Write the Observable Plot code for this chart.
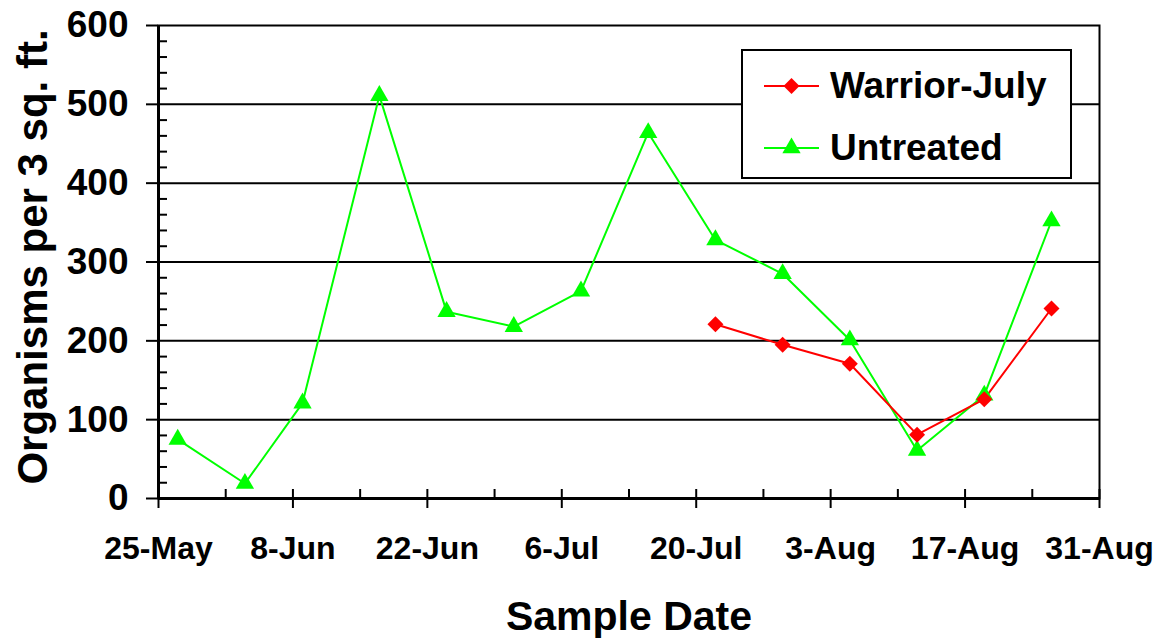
<!DOCTYPE html>
<html><head><meta charset="utf-8">
<script src="https://cdn.jsdelivr.net/npm/d3@7"></script>
<script src="https://cdn.jsdelivr.net/npm/@observablehq/plot@0.6"></script>
<style>body{margin:0;background:#fff}#chart{width:1163px;height:641px}</style>
</head><body><div id="chart"></div>
<script>
// ---- data ----
const untreatedDates = ["2009-05-27","2009-06-03","2009-06-09","2009-06-17","2009-06-24","2009-07-01","2009-07-08","2009-07-15","2009-07-22","2009-07-29","2009-08-05","2009-08-12","2009-08-19","2009-08-26"];
const untreatedValues = [75, 19, 121, 511, 237, 218, 263, 464, 328, 285, 201, 61, 131, 352];
const warriorDates = ["2009-07-22","2009-07-29","2009-08-05","2009-08-12","2009-08-19","2009-08-26"];
const warriorValues = [221, 195, 171, 81, 126, 241];
const seriesNames = ["Warrior-July", "Untreated"];
const seriesColors = ["#ff0000", "#00ff00"];
const seriesSymbols = ["diamond2", "triangle"];
const xDomain = ["2009-05-25", "2009-08-31"];
const xMajorTicks = ["2009-05-25","2009-06-08","2009-06-22","2009-07-06","2009-07-20","2009-08-03","2009-08-17","2009-08-31"];
const xMinorTicks = ["2009-06-01","2009-06-15","2009-06-29","2009-07-13","2009-07-27","2009-08-10","2009-08-24"];
const yMajorTicks = [0, 100, 200, 300, 400, 500, 600];
const yMinorTicks = [20,40,60,80,120,140,160,180,220,240,260,280,320,340,360,380,420,440,460,480,520,540,560,580];
const xTitle = "Sample Date";
const yTitle = "Organisms per 3 sq. ft.";

const parse = d3.utcParse("%Y-%m-%d");
const warrior = warriorDates.map((d, i) => ({date: parse(d), value: warriorValues[i], series: seriesNames[0]}));
const untreated = untreatedDates.map((d, i) => ({date: parse(d), value: untreatedValues[i], series: seriesNames[1]}));
const fmt = d3.utcFormat("%-d-%b");
const FONT = "'Liberation Sans', Arial, Helvetica, sans-serif";
const R_TRI = 6.8, R_DIA = 7.2;

const plot = Plot.plot({
  width: 1163, height: 641,
  marginLeft: 158, marginRight: 64, marginTop: 25, marginBottom: 143,
  style: {fontFamily: FONT, fontWeight: "bold", background: "white", color: "black", overflow: "visible"},
  x: {type: "utc", domain: xDomain.map(parse)},
  y: {domain: [0, 600]},
  marks: [
    Plot.ruleY(yMajorTicks.slice(1, -1), {stroke: "black", strokeWidth: 2}),
    Plot.frame({stroke: "black", strokeWidth: 2}),
    Plot.axisY(yMajorTicks, {anchor: "left", tickSize: 12, tickPadding: 18, fontSize: 37, strokeWidth: 2, label: null, tickFormat: d => String(d)}),
    Plot.axisY(yMinorTicks, {anchor: "left", tickSize: 9, dx: 9, strokeWidth: 2, label: null, tickFormat: () => ""}),
    Plot.axisX(xMajorTicks.map(parse), {anchor: "bottom", tickSize: 10, tickPadding: 28, fontSize: 32, strokeWidth: 2, label: null, tickFormat: fmt}),
    Plot.axisX(xMajorTicks.map(parse), {anchor: "bottom", tickSize: 9, dy: -9, strokeWidth: 2, label: null, tickFormat: () => ""}),
    Plot.axisX(xMinorTicks.map(parse), {anchor: "bottom", tickSize: 9, dy: -9, strokeWidth: 2, label: null, tickFormat: () => ""}),
    Plot.ruleY([0], {stroke: "black", strokeWidth: 3}),
    Plot.ruleX([parse(xDomain[0])], {stroke: "black", strokeWidth: 3}),
    Plot.line(untreated, {x: "date", y: "value", stroke: seriesColors[1], strokeWidth: 2}),
    Plot.line(warrior, {x: "date", y: "value", stroke: seriesColors[0], strokeWidth: 2}),
    Plot.dot(untreated, {x: "date", y: "value", fill: seriesColors[1], symbol: seriesSymbols[1], r: R_TRI}),
    Plot.dot(warrior, {x: "date", y: "value", fill: seriesColors[0], symbol: seriesSymbols[0], r: R_DIA}),
    Plot.text([xTitle], {frameAnchor: "bottom", dy: 131, lineAnchor: "bottom", fontSize: 41, fontWeight: "bold", fill: "black"}),
    Plot.text([yTitle], {frameAnchor: "left", textAnchor: "middle", dx: -112, dy: -5, rotate: -90, lineAnchor: "bottom", fontSize: 42, fontWeight: "bold", fill: "black"})
  ]
});
document.getElementById("chart").appendChild(plot);

// ---- legend box (inside plot area, top right) ----
const svg = d3.select(plot);
const lg = svg.append("g").attr("font-family", FONT).attr("font-weight", "bold").attr("text-anchor", "start");
lg.append("rect").attr("x", 742).attr("y", 50).attr("width", 329).attr("height", 128)
  .attr("fill", "white").attr("stroke", "black").attr("stroke-width", 2);
seriesNames.forEach((name, i) => {
  const cy = 86 + i * 62;
  lg.append("line").attr("x1", 764).attr("x2", 819).attr("y1", cy).attr("y2", cy)
    .attr("stroke", seriesColors[i]).attr("stroke-width", 2);
  const sym = i === 0 ? d3.symbolDiamond2 : d3.symbolTriangle;
  const r = i === 0 ? R_DIA : R_TRI;
  lg.append("path").attr("d", d3.symbol(sym, r * r * Math.PI)()).attr("transform", `translate(791.5,${cy})`)
    .attr("fill", seriesColors[i]);
  lg.append("text").attr("x", 830).attr("y", cy + 12).attr("font-size", 37).attr("fill", "black").text(name);
});
</script></body></html>
